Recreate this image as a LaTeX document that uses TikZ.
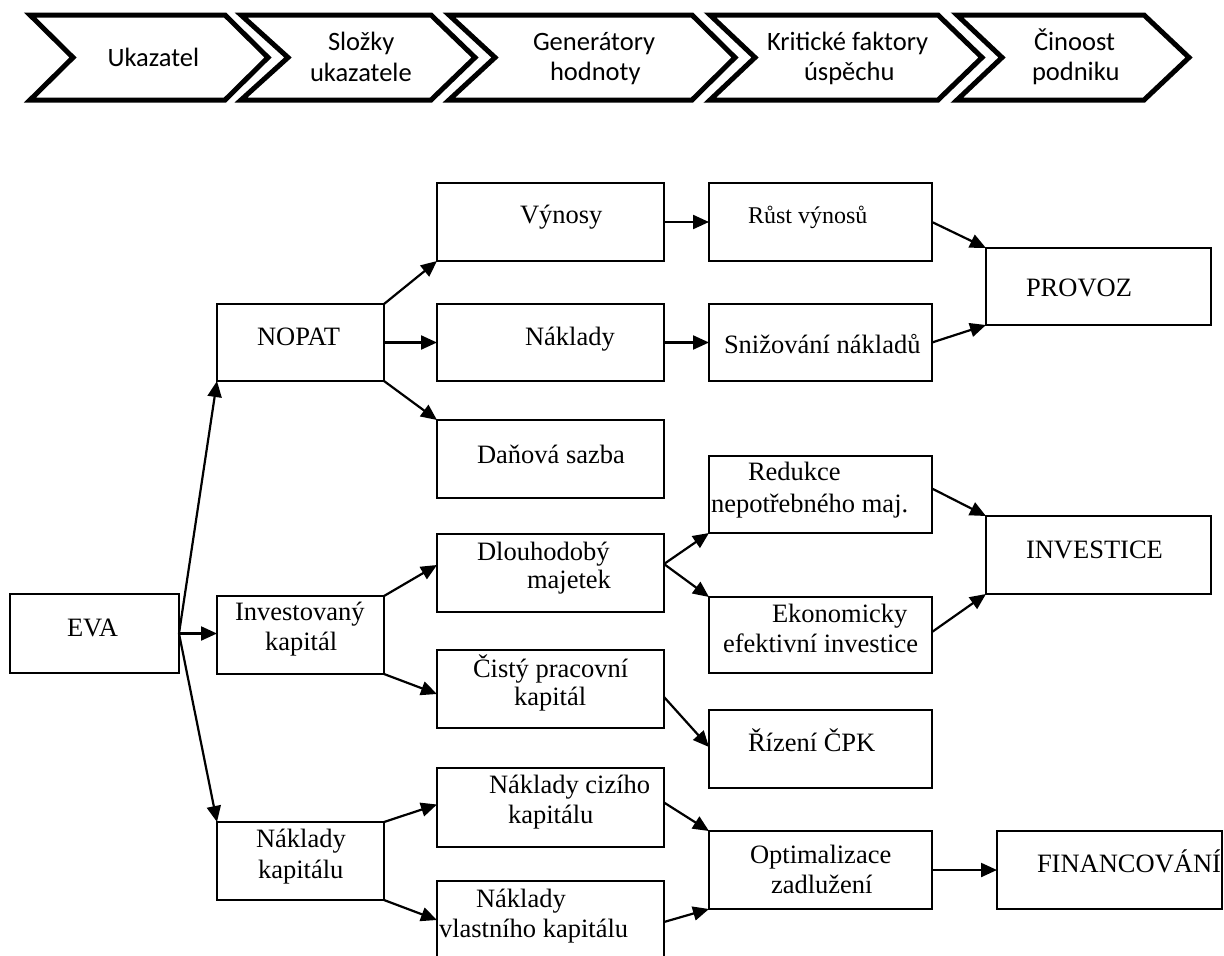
\documentclass[tikz,border=0pt]{standalone}
\usepackage{fontspec}
\setmainfont{Liberation Serif}
\newfontfamily\chevfont{Carlito}
\usetikzlibrary{arrows.meta,calc}
\tikzset{
  chev/.style={draw=black,line width=5pt,line join=miter},
  box/.style={draw=black,line width=1.8pt,inner sep=0pt,outer sep=0pt,fill=white},
  lbl/.style={inner sep=0pt,outer sep=0pt,font=\fontsize{26.5}{30}\selectfont},
  lblsmall/.style={inner sep=0pt,outer sep=0pt,font=\fontsize{24}{28}\selectfont},
  clbl/.style={inner sep=0pt,outer sep=0pt,font=\chevfont\fontsize{26.5}{30}\selectfont},
  arr/.style={-{Triangle[length=16pt,width=14pt]},line width=2.2pt}
}
\newcommand\chev[4]{\draw[chev] (#1,15) -- (#3,15) -- (#4,57.5) -- (#3,100) -- (#1,100) -- (#2,57.5) -- cycle;}
\newcommand\bx[5]{\node[box,minimum width={#4-#2},minimum height={#5-#3}] (#1) at ({(#2+#4)/2},{(#3+#5)/2}) {};}
\newcommand\tx[4]{\node[lbl,anchor=base west] (#1) at (#2,#3) {#4};}
\newcommand\ctx[4]{\node[clbl,anchor=base west] (#1) at (#2,#3) {#4};}
\begin{document}
\begin{tikzpicture}[x=1pt,y=-1pt]
\useasboundingbox (0,0) rectangle (1224,956);
% chevrons
\chev{30}{73}{225}{268}
\chev{241}{288}{431}{475}
\chev{449}{495}{692}{735}
\chev{710}{755}{938}{982}
\chev{957}{1002}{1144}{1189}
\ctx{c1}{107.5}{66}{Ukazatel}
\ctx{c2a}{328}{50}{Složky}
\ctx{c2b}{310}{81}{ukazatele}
\ctx{c3a}{533}{50}{Generátory}
\ctx{c3b}{550}{80}{hodnoty}
\ctx{c4a}{767}{50}{Kritické faktory}
\ctx{c4b}{804}{80}{úspěchu}
\ctx{c5a}{1034}{50}{Činoost}
\ctx{c5b}{1032}{80}{podniku}
% boxes
\bx{EVA}{10}{594}{179}{673}
\bx{NOPAT}{217}{304}{384}{381}
\bx{INV}{217}{596}{384}{674}
\bx{NK}{217}{822}{384}{900}
\bx{VYN}{437}{183}{664}{261}
\bx{NAK}{437}{304}{664}{381}
\bx{DAN}{437}{420}{664}{498}
\bx{DLM}{437}{534}{664}{612}
\bx{CPK}{437}{650}{664}{728}
\bx{NCK}{437}{768}{664}{847}
\bx{NVK}{437}{881}{664}{959}
\bx{RUST}{709}{183}{932}{261}
\bx{SNIZ}{709}{304}{932}{381}
\bx{RED}{709}{456}{932}{533}
\bx{EKO}{709}{597}{932}{673}
\bx{RIZ}{709}{710}{932}{788}
\bx{OPT}{709}{831}{932}{909}
\bx{PROV}{986}{248}{1211}{325}
\bx{INVE}{986}{516}{1211}{594}
\bx{FIN}{997}{831}{1222}{909}
% texts
\tx{tEVA}{67}{636}{EVA}
\tx{tNOPAT}{257}{345}{NOPAT}
\tx{tINVa}{235}{620}{Investovaný}
\tx{tINVb}{265}{650}{kapitál}
\tx{tNKa}{256}{847}{Náklady}
\tx{tNKb}{258}{878}{kapitálu}
\tx{tVYN}{520}{223}{Výnosy}
\tx{tNAK}{525}{345}{Náklady}
\tx{tDAN}{477}{463}{Daňová sazba}
\tx{tDLMa}{477}{560}{Dlouhodobý}
\tx{tDLMb}{527}{588}{majetek}
\tx{tCPKa}{473}{677}{Čistý pracovní}
\tx{tCPKb}{514}{705}{kapitál}
\tx{tNCKa}{489}{793}{Náklady cizího}
\tx{tNCKb}{508}{823}{kapitálu}
\tx{tNVKa}{476}{907}{Náklady}
\tx{tNVKb}{439}{937}{vlastního kapitálu}
\node[lblsmall,anchor=base west] (tRUST) at (748,223) {Růst výnosů};
\tx{tSNIZ}{724}{353}{Snižování nákladů}
\tx{tPROV}{1026}{296}{PROVOZ}
\tx{tREDa}{748}{480}{Redukce}
\tx{tREDb}{711}{512}{nepotřebného maj.}
\tx{tEKOa}{772}{622}{Ekonomicky}
\tx{tEKOb}{723}{652}{efektivní investice}
\tx{tRIZ}{748}{751}{Řízení ČPK}
\tx{tINVE}{1026}{558}{INVESTICE}
\tx{tOPTa}{750}{863}{Optimalizace}
\tx{tOPTb}{771}{893}{zadlužení}
\tx{tFIN}{1037}{872}{FINANCOVÁNÍ}
% connectors
\draw[arr] (EVA.east) -- (NOPAT.south west);
\draw[arr] (EVA.east) -- (EVA.east -| INV.west);
\draw[arr] (EVA.east) -- (NK.north west);
\draw[arr] (NOPAT.north east) -- (VYN.south west);
\draw[arr] (NOPAT.east) -- (NAK.west);
\draw[arr] (NOPAT.south east) -- (DAN.north west);
\draw[arr] (INV.north east) -- ($(DLM.west)+(0,-8)$);
\draw[arr] (INV.south east) -- ($(CPK.west)+(0,5)$);
\draw[arr] (NK.north east) -- ($(NCK.west)+(0,-3)$);
\draw[arr] (NK.south east) -- (NVK.west);
\draw[arr] (VYN.east) -- (VYN.east -| RUST.west);
\draw[arr] (NAK.east) -- (NAK.east -| SNIZ.west);
\draw[arr] ($(DLM.east)+(0,-9)$) -- (RED.south west);
\draw[arr] ($(DLM.east)+(0,-9)$) -- (EKO.north west);
\draw[arr] ($(CPK.east)+(0,8)$) -- ($(RIZ.west)+(0,-2)$);
\draw[arr] ($(NCK.east)+(0,-5)$) -- (OPT.north west);
\draw[arr] ($(NVK.east)+(0,2)$) -- (OPT.south west);
\draw[arr] (RUST.east) -- (PROV.north west);
\draw[arr] (SNIZ.east) -- (PROV.south west);
\draw[arr] ($(RED.east)+(0,-6)$) -- (INVE.north west);
\draw[arr] ($(EKO.east)+(0,-3)$) -- (INVE.south west);
\draw[arr] (OPT.east) -- (FIN.west);
\end{tikzpicture}
\end{document}
